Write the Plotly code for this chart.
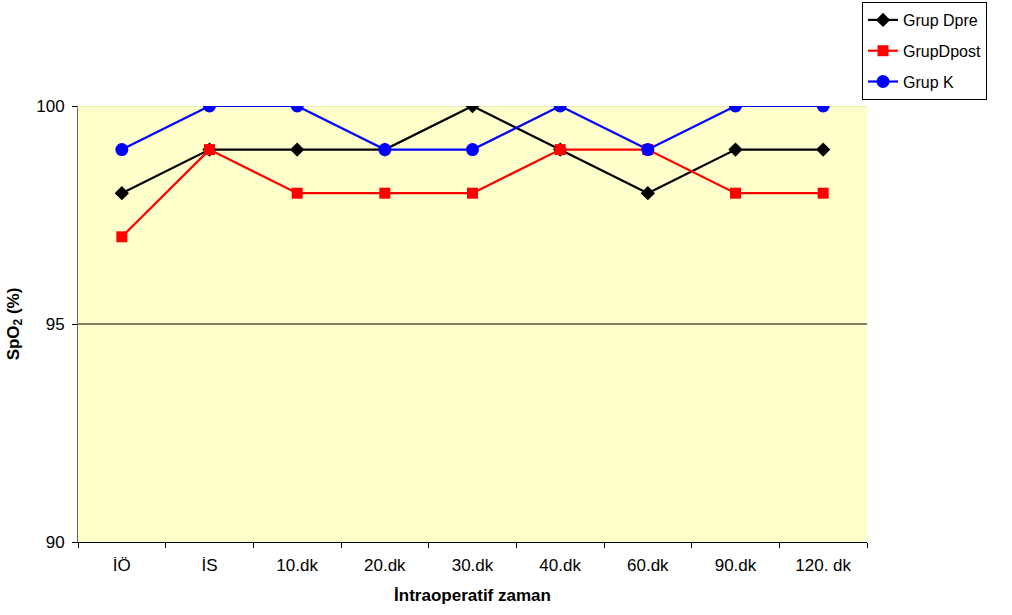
import plotly.graph_objects as go

# Intraoperative SpO2 by time point and group
time_points = ["İÖ", "İS", "10.dk", "20.dk", "30.dk", "40.dk", "60.dk", "90.dk", "120. dk"]
grup_dpre = [98, 99, 99, 99, 100, 99, 98, 99, 99]
grup_dpost = [97, 99, 98, 98, 98, 99, 99, 98, 98]
grup_k = [99, 100, 100, 99, 99, 100, 99, 100, 100]

series = [
    ("Grup Dpre", grup_dpre, "#000000", "diamond", 11),
    ("GrupDpost", grup_dpost, "#FF0000", "square", 11),
    ("Grup K", grup_k, "#0000FF", "circle", 13),
]

fig = go.Figure()
for name, values, color, symbol, size in series:
    fig.add_trace(go.Scatter(
        x=time_points, y=values, name=name, mode="lines+markers",
        legendgroup=name,
        line=dict(color=color, width=2.2),
        marker=dict(symbol=symbol, size=size, color=color),
    ))

font = "Liberation Sans, Arial, sans-serif"

fig.update_layout(
    width=1012, height=615,
    margin=dict(l=78, r=145, t=106, b=73, autoexpand=False),
    paper_bgcolor="white",
    plot_bgcolor="#FFFFCC",
    font=dict(family=font, size=17, color="black"),
    showlegend=True,
    legend=dict(
        x=0.9937, y=1.2385, xanchor="left", yanchor="top",
        bgcolor="white", bordercolor="black", borderwidth=1,
        font=dict(size=16), tracegroupgap=7,
        itemsizing="trace",
    ),
    xaxis=dict(
        type="category", tickson="boundaries",
        showgrid=False, showline=True, linecolor="black", linewidth=1,
        ticks="outside", ticklen=5, tickcolor="black",
        ticklabelstandoff=8,
        range=[-0.5, 8.5],
        title=dict(text="<b>İntraoperatif zaman</b>", font=dict(size=17), standoff=14),
        tickfont=dict(size=17),
    ),
    yaxis=dict(
        range=[90, 100], tickvals=[90, 95, 100], ticktext=["90", "95", "100"],
        showgrid=False, zeroline=False,
        showline=True, linecolor="#707058", linewidth=1,
        ticks="outside", ticklen=5, tickcolor="black",
        ticklabelstandoff=4,
        title=dict(text="<b>SpO<sub>2</sub> (%)</b>", font=dict(size=17), standoff=12),
        tickfont=dict(size=17),
    ),
)

# Plot area lines: gridline at 95 and pale top border
fig.add_shape(type="line", xref="paper", yref="y", x0=0, x1=1, y0=95, y1=95,
              line=dict(color="black", width=1), layer="below")
fig.add_shape(type="line", xref="paper", yref="y", x0=0, x1=1, y0=100, y1=100,
              line=dict(color="#D8D8A0", width=1), layer="below")

fig.write_html("out.html")
